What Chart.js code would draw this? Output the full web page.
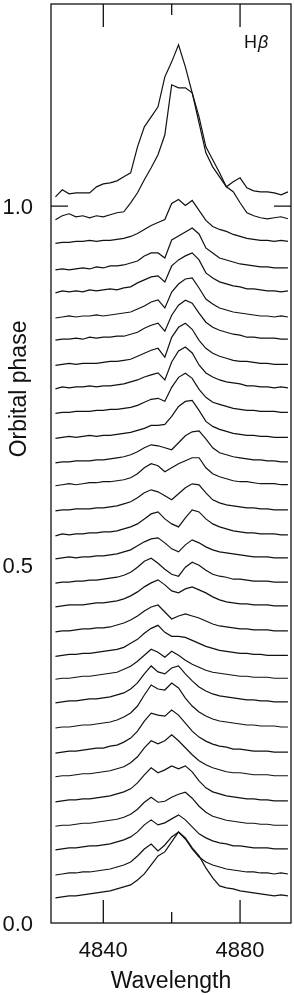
<!DOCTYPE html>
<html>
<head>
<meta charset="utf-8">
<script src="https://cdn.jsdelivr.net/npm/chart.js@4.4.1/dist/chart.umd.min.js"></script>
<style>
  html, body { margin: 0; padding: 0; background: #fff; }
  #wrap { width: 294px; height: 996px; }
</style>
</head>
<body>
<div id="wrap"><canvas id="chart" width="294" height="996"></canvas></div>
<script>
// --- DATA ---
const wavelengths = [4826, 4828, 4830, 4832, 4834, 4836, 4838, 4840, 4842, 4844, 4846, 4848,
  4850, 4852, 4854, 4856, 4858, 4860, 4862, 4864, 4866, 4868, 4870, 4872, 4874, 4876,
  4878, 4880, 4882, 4884, 4886, 4888, 4890, 4892, 4894];

// orbital phase of each spectrum, top to bottom
const phases = [1.013, 0.981, 0.948, 0.911, 0.879, 0.844, 0.813, 0.778, 0.745, 0.711,
  0.676, 0.642, 0.610, 0.575, 0.540, 0.508, 0.474, 0.441, 0.406, 0.372,
  0.340, 0.307, 0.272, 0.237, 0.204, 0.169, 0.135, 0.102, 0.067, 0.035];

// flux above continuum (relative units), one array per spectrum
const s01 = [0,7,3,4,4,4,10,13,14,16,20,24,50,70,80,90,120,135,152,130,104,74,44,30,20,10,15,19,9,6,5,5,4,2,5];
const s02 = [0,4,6,3,4,2,4,3,5,7,8,17,27,40,52,65,85,135,132,132,127,103,73,60,47,33,28,17,7,4,2,1,2,3,1];
const s03 = [0,1,1,2,2,3,2,3,3,4,5,7,10,14,18,21,24,40,44,38,43,33,23,17,14,12,9,7,5,4,3,3,2,3,2];
const s04 = [0,1,0,1,2,1,3,2,4,4,5,7,9,14,17,17,12,30,34,38,42,36,22,17,12,10,8,6,5,4,3,3,2,2,2];
const s05 = [0,2,1,2,1,3,2,3,4,3,5,6,10,13,16,17,11,27,33,37,40,33,20,15,11,9,7,6,4,4,3,2,2,1,2];
const s06 = [0,1,2,1,2,2,3,2,3,4,5,6,9,12,16,18,10,26,34,39,40,30,19,14,10,8,6,5,4,3,2,2,1,2,1];
const s07 = [0,1,1,2,1,3,2,3,3,4,4,6,8,12,15,17,9,25,35,40,37,27,18,13,10,8,6,5,3,3,2,2,2,1,1];
const s08 = [0,1,2,1,2,2,2,3,4,4,5,6,9,12,15,17,8,28,38,42,36,25,17,12,9,7,5,4,4,3,2,2,1,1,1];
const s09 = [0,2,1,2,2,3,2,3,3,4,5,7,9,12,14,16,9,27,38,42,36,24,16,12,9,7,6,5,3,3,2,2,1,2,1];
const s10 = [0,1,1,2,2,2,3,3,4,4,5,6,8,11,14,15,12,26,36,40,35,24,16,11,9,7,5,4,3,3,2,2,2,1,1];
const s11 = [0,1,2,1,2,3,2,3,3,4,5,6,8,10,13,13,14,22,32,37,38,28,17,12,9,7,5,4,3,3,2,2,1,1,1];
const s12 = [0,1,1,2,2,2,3,3,4,5,6,8,11,15,18,17,15,13,20,27,31,32,24,15,10,8,6,5,4,3,3,2,2,1,1];
const s13 = [0,1,2,1,2,3,3,4,4,5,6,8,12,18,22,20,14,18,22,25,28,28,18,12,9,7,5,4,4,3,2,2,2,1,1];
const s14 = [0,1,1,2,2,2,3,3,4,5,7,9,13,18,21,19,15,11,17,23,27,26,18,11,8,6,5,4,3,3,2,2,1,1,1];
const s15 = [0,2,1,2,2,3,3,4,4,5,7,9,12,17,22,24,17,12,9,18,26,24,17,12,9,7,5,4,3,3,2,2,2,1,1];
const s16 = [0,1,2,1,2,2,3,3,4,5,7,9,13,17,20,21,16,10,7,14,19,16,12,9,7,6,5,4,3,2,2,2,1,1,1];
const s17 = [0,1,1,2,2,3,3,4,5,6,8,11,16,22,25,20,14,9,7,16,21,18,13,9,7,6,4,4,3,2,2,2,1,1,1];
const s18 = [0,1,2,2,2,3,4,4,5,6,8,11,15,20,24,27,22,16,14,18,20,17,14,10,7,5,4,3,3,2,2,2,1,1,1];
const s19 = [0,1,1,2,3,3,4,4,5,7,9,12,16,21,25,27,20,13,16,18,16,14,11,8,6,5,4,3,3,2,2,2,1,1,1];
const s20 = [0,1,2,2,3,3,4,5,6,7,9,13,17,23,28,31,24,20,20,19,16,13,10,8,6,5,4,3,3,2,2,1,1,1,1];
const s21 = [0,1,1,2,3,3,4,5,6,7,10,13,18,24,30,27,22,28,24,19,15,12,9,7,6,5,4,3,3,2,2,2,1,1,1];
const s22 = [0,1,2,2,3,4,4,5,6,8,10,14,20,29,37,31,29,35,37,29,22,16,12,9,7,6,5,4,3,3,2,2,1,1,1];
const s23 = [0,1,1,2,3,3,4,5,6,8,11,15,22,33,43,39,38,45,40,30,22,16,12,9,7,6,5,4,3,3,2,2,2,1,1];
const s24 = [0,1,2,2,3,4,5,5,7,8,11,15,22,32,40,38,37,43,38,30,22,16,12,9,7,6,4,4,3,2,2,2,1,1,1];
const s25 = [0,1,1,2,3,3,4,5,6,8,10,14,20,29,36,33,36,42,36,29,22,16,12,9,7,5,4,4,3,2,2,2,1,1,1];
const s26 = [0,1,2,2,3,3,4,5,6,8,10,13,19,27,34,29,32,36,33,36,30,21,14,10,8,6,5,4,3,3,2,2,1,1,1];
const s27 = [0,1,1,2,3,3,4,5,6,7,9,12,17,24,29,24,25,29,32,34,28,20,14,10,8,6,5,4,3,3,2,2,1,1,1];
const s28 = [0,1,2,2,3,4,4,5,6,8,10,13,18,25,30,25,27,31,35,30,23,16,12,9,7,6,4,4,3,2,2,2,1,1,1];
const s29 = [0,1,2,2,3,3,4,5,6,8,10,13,19,26,31,24,30,38,43,36,26,18,13,10,8,6,5,4,3,3,2,2,1,2,1];
const s30 = [0,1,2,2,3,4,5,6,7,9,11,13,18,24,33,42,46,56,66,60,50,42,30,20,12,10,9,7,6,5,4,3,2,3,2];

const spectra = [s01, s02, s03, s04, s05, s06, s07, s08, s09, s10,
  s11, s12, s13, s14, s15, s16, s17, s18, s19, s20,
  s21, s22, s23, s24, s25, s26, s27, s28, s29, s30];

const xTicks = [4840, 4860, 4880];
const xLabelled = [4840, 4880];
const yTicks = [0, 0.5, 1.0];
const lineName = ['H', 'β'];
const fluxScale = 1 / 717;   // phase units per flux unit

const FONT = '"Liberation Sans", Arial, Helvetica, sans-serif';
const INK = '#111';

// --- DATASETS ---
const datasets = spectra.map((flux, k) => ({
    data: flux.map((f, i) => ({ x: wavelengths[i], y: phases[k] + f * fluxScale })),
    borderColor: INK,
    borderWidth: 1.2,
    pointRadius: 0,
    tension: 0,
    fill: false
}));

// frame, inward ticks, line name, rotated y title
const frameTicks = {
    id: 'frameTicks',
    afterDraw(chart) {
        const { ctx, chartArea: a, scales: { x, y } } = chart;
        ctx.save();
        ctx.strokeStyle = INK;
        ctx.lineWidth = 1.3;
        ctx.strokeRect(a.left, a.top, a.right - a.left, a.bottom - a.top);

        ctx.beginPath();
        xTicks.forEach(v => {
            const px = x.getPixelForValue(v);
            const len = xLabelled.includes(v) ? 23 : 11;
            ctx.moveTo(px, a.bottom); ctx.lineTo(px, a.bottom - len);
            ctx.moveTo(px, a.top); ctx.lineTo(px, a.top + len);
        });
        const py = y.getPixelForValue(1);
        ctx.moveTo(a.left, py); ctx.lineTo(a.left + 17, py);
        ctx.moveTo(a.right, py); ctx.lineTo(a.right - 17, py);
        ctx.stroke();

        // H beta
        ctx.fillStyle = INK;
        ctx.textBaseline = 'alphabetic';
        ctx.font = '18px ' + FONT;
        const hx = a.right - 47, hy = a.top + 44;
        ctx.fillText(lineName[0], hx, hy);
        const w = ctx.measureText(lineName[0]).width;
        ctx.font = 'italic 18px ' + FONT;
        ctx.fillText(lineName[1], hx + w + 1, hy);

        // y title
        ctx.translate(20, y.getPixelForValue(0.745));
        ctx.rotate(-Math.PI / 2);
        ctx.font = '23px ' + FONT;
        ctx.textAlign = 'center';
        ctx.textBaseline = 'middle';
        ctx.fillText('Orbital phase', 0, 0);
        ctx.restore();
    }
};

new Chart(document.getElementById('chart'), {
    type: 'line',
    data: { datasets },
    plugins: [frameTicks],
    options: {
        responsive: false,
        animation: false,
        events: [],
        layout: { padding: { top: 4, right: 3, left: 0, bottom: 0 } },
        plugins: { legend: { display: false }, tooltip: { enabled: false } },
        scales: {
            x: {
                type: 'linear',
                min: 4824.7,
                max: 4894.9,
                grid: { display: false, drawTicks: false },
                border: { display: false },
                afterBuildTicks: s => { s.ticks = xTicks.map(v => ({ value: v })); },
                afterFit: s => { s.height = 73; s.paddingLeft = 0; s.paddingRight = 0; },
                ticks: {
                    color: INK,
                    font: { family: FONT, size: 22 },
                    padding: 15,
                    maxRotation: 0,
                    autoSkip: false,
                    callback: v => xLabelled.includes(v) ? String(v) : ''
                },
                title: {
                    display: true,
                    text: 'Wavelength',
                    color: INK,
                    font: { family: FONT, size: 23 },
                    padding: { top: 0, bottom: 1 }
                }
            },
            y: {
                type: 'linear',
                min: 0,
                max: 1.282,
                grid: { display: false, drawTicks: false },
                border: { display: false },
                afterBuildTicks: s => { s.ticks = yTicks.map(v => ({ value: v })); },
                afterFit: s => { s.width = 51; s.paddingTop = 0; s.paddingBottom = 0; },
                ticks: {
                    color: INK,
                    font: { family: FONT, size: 22 },
                    padding: 18,
                    labelOffset: 2,
                    autoSkip: false,
                    callback: v => v.toFixed(1)
                }
            }
        }
    }
});
</script>
</body>
</html>
